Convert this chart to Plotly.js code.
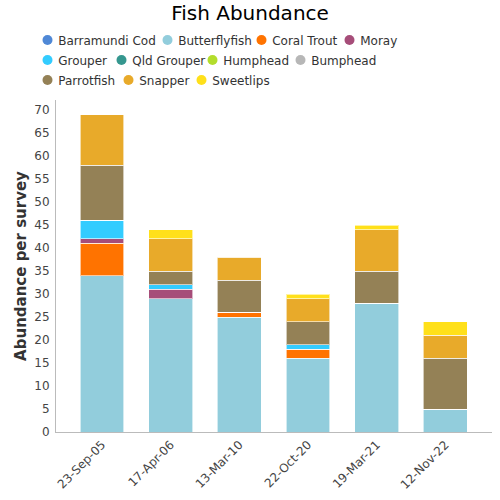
<!DOCTYPE html>
<html>
<head>
<meta charset="utf-8">
<script src="https://cdn.plot.ly/plotly-3.0.1.min.js"></script>
<style>html,body{margin:0;padding:0;background:#fff;}#chart{width:500px;height:500px;}</style>
</head>
<body>
<div id="chart"></div>
<script>
var dates = ["23-Sep-05", "17-Apr-06", "13-Mar-10", "22-Oct-20", "19-Mar-21", "12-Nov-22"];
var species = ["Barramundi Cod", "Butterflyfish", "Coral Trout", "Moray", "Grouper", "Qld Grouper", "Humphead", "Bumphead", "Parrotfish", "Snapper", "Sweetlips"];
var colors = ["#4f88d6", "#92cddc", "#ff7300", "#a64d79", "#33ccff", "#35978f", "#b3dd2c", "#b7b7b7", "#948156", "#e8aa2a", "#ffe01a"];
var barramundiCod = [0, 0, 0, 0, 0, 0];
var butterflyfish = [34, 29, 25, 16, 28, 5];
var coralTrout    = [7, 0, 1, 2, 0, 0];
var moray         = [1, 2, 0, 0, 0, 0];
var grouper       = [4, 1, 0, 1, 0, 0];
var qldGrouper    = [0, 0, 0, 0, 0, 0];
var humphead      = [0, 0, 0, 0, 0, 0];
var bumphead      = [0, 0, 0, 0, 0, 0];
var parrotfish    = [12, 3, 7, 5, 7, 11];
var snapper       = [11, 7, 5, 5, 9, 5];
var sweetlips     = [0, 2, 0, 1, 1, 3];
var yTicks = [0, 5, 10, 15, 20, 25, 30, 35, 40, 45, 50, 55, 60, 65, 70];

var seriesValues = [barramundiCod, butterflyfish, coralTrout, moray, grouper, qldGrouper, humphead, bumphead, parrotfish, snapper, sweetlips];

// legend entry layout (pixels in the 500x500 picture): symbol centre x, row centre y
var legendPosX = [48, 168, 262, 350, 48, 122, 213, 301, 48, 129, 202];
var legendPosY = [40, 40, 40, 40, 60, 60, 60, 60, 80, 80, 80];

function legendKey(n) { return n === 1 ? "legend" : "legend" + n; }

var traces = [];
species.forEach(function (name, i) {
  traces.push({
    type: "bar", name: name, x: dates, y: seriesValues[i],
    marker: { color: colors[i], line: { color: "rgba(255,255,255,0.6)", width: 1 } },
    showlegend: false, legendgroup: name,
    hovertemplate: name + ": %{y}<extra></extra>"
  });
});
// legend: one entry for the circle swatch, one for the label (so the gap can match)
species.forEach(function (name, i) {
  traces.push({
    type: "scatter", mode: "markers", name: "", x: [null], y: [null],
    marker: { color: colors[i], size: 10, symbol: "circle" },
    legend: legendKey(2 * i + 1), showlegend: true, hoverinfo: "skip"
  });
  traces.push({
    type: "scatter", mode: "markers", name: name, x: [null], y: [null],
    marker: { color: "rgba(0,0,0,0)", size: 1, symbol: "circle" },
    legend: legendKey(2 * i + 2), showlegend: true, hoverinfo: "skip"
  });
});

var layout = {
  width: 500, height: 500,
  margin: { l: 56, r: 8, t: 100, b: 68 },
  paper_bgcolor: "#fff", plot_bgcolor: "#fff",
  font: { family: "DejaVu Sans", size: 12, color: "#444" },
  title: { text: "Fish Abundance", font: { family: "DejaVu Sans", size: 20, color: "#000" }, x: 0.5, xanchor: "center", y: 0.974, yanchor: "middle", yref: "container" },
  barmode: "stack", bargap: 0.36,
  showlegend: true,
  xaxis: { type: "category", tickangle: -45, showline: true, linecolor: "#bbb", linewidth: 1, showgrid: false, ticks: "", tickfont: { size: 12, color: "#444" }, range: [-0.67, 5.68] },
  yaxis: { range: [0, 72.2], tickvals: yTicks, ticktext: yTicks.map(String), showline: true, linecolor: "#bbb", linewidth: 1, showgrid: false, zeroline: false, ticks: "", ticklabelstandoff: 3, tickfont: { size: 12, color: "#444" },
    title: { text: "Abundance per survey", font: { family: "DejaVu Sans", size: 15, weight: "bold", color: "#333" }, standoff: 4 } }
};
function legendBox(left, yc) {
  return {
    orientation: "h", xref: "container", yref: "container",
    x: left / 500, xanchor: "left", y: 1 - yc / 500, yanchor: "middle",
    font: { family: "DejaVu Sans", size: 12, color: "#333" },
    itemwidth: 30, bgcolor: "rgba(0,0,0,0)", borderwidth: 0
  };
}
species.forEach(function (name, i) {
  layout[legendKey(2 * i + 1)] = legendBox(legendPosX[i] - 20.5, legendPosY[i]);
  layout[legendKey(2 * i + 2)] = legendBox(legendPosX[i] + 9.7 - 39.5, legendPosY[i]);
});

Plotly.newPlot("chart", traces, layout, { displayModeBar: false, staticPlot: true });
</script>
</body>
</html>
